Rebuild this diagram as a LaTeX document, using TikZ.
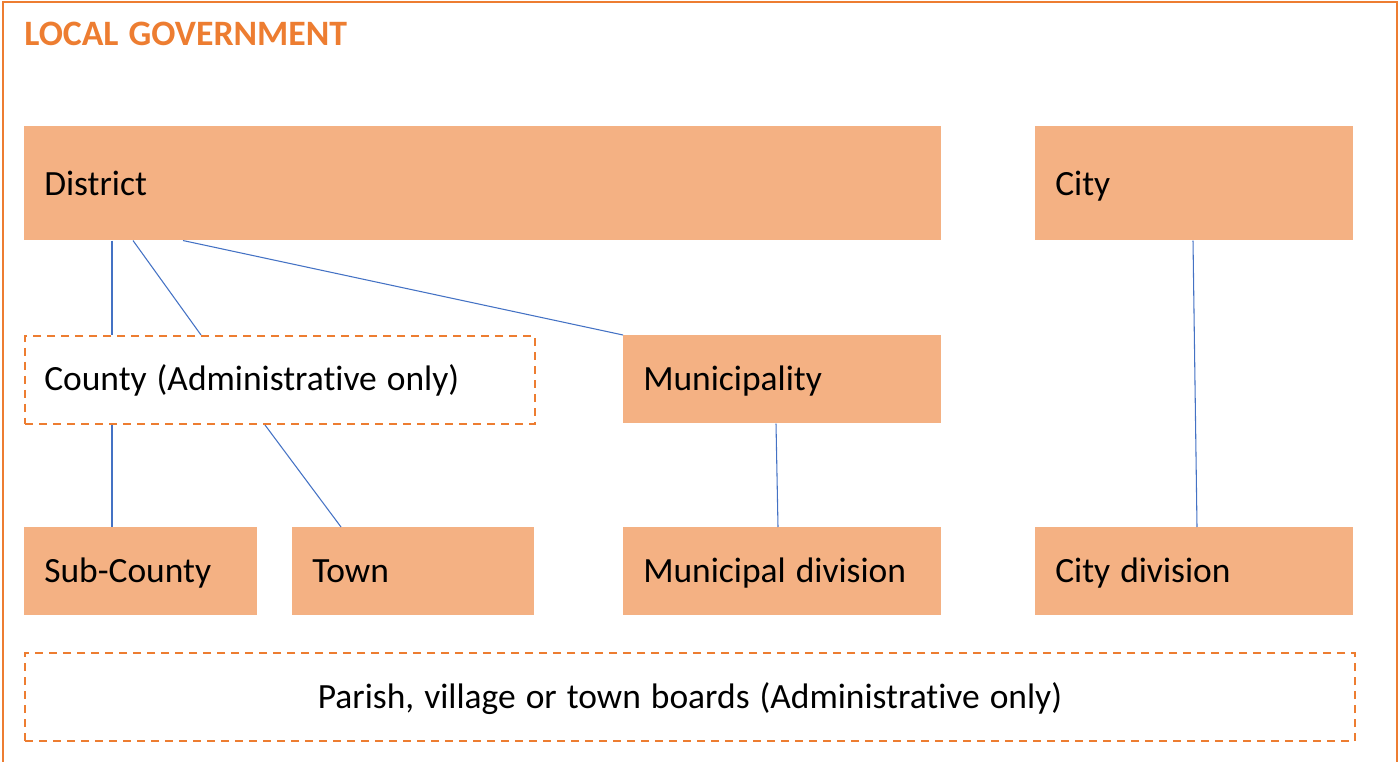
\documentclass[tikz,border=0pt]{standalone}
\usepackage{fontspec}
\setmainfont{Carlito}[Ligatures={NoCommon},WordSpace=1.25]
\definecolor{orng}{HTML}{ED7D31}
\definecolor{boxfill}{HTML}{F4B183}
\definecolor{linkblue}{HTML}{4472C4}
\begin{document}
\begin{tikzpicture}[x=0.75pt,y=-0.75pt,
  every node/.style={font=\fontsize{26.6pt}{32pt}\selectfont},
  solidbox/.style={fill=boxfill,draw=none,anchor=north west,inner sep=0pt},
  dashbox/.style={draw=orng,line width=1.5pt,dash pattern=on 6pt off 4.5pt,fill=white,anchor=north west,inner sep=0pt},
  lbl/.style={inner sep=0pt,anchor=base west},
  link/.style={draw=linkblue,line width=0.8pt}]
\useasboundingbox (0,0) rectangle (1399,762);
\begin{scope}
\clip (0,0) rectangle (1399,762);
\draw[orng,line width=2.2pt] (3,780) -- (3,2) -- (1397,2) -- (1397,780);
\end{scope}
\node[anchor=base west,inner sep=0pt,text=orng,font=\fontsize{26.8pt}{32pt}\selectfont\bfseries] (title) at (24,46) {LOCAL GOVERNMENT};
% boxes
\node[solidbox,minimum height=85.5pt,minimum width=687.75pt] (district) at (24,126) {};
\node[solidbox,minimum height=85.5pt,minimum width=238.5pt] (city) at (1035,126) {};
\node[dashbox,minimum height=66pt,minimum width=382.5pt] (county) at (24,335) {};
\node[solidbox,minimum height=66pt,minimum width=238.5pt] (munic) at (623,335) {};
\node[solidbox,minimum height=66pt,minimum width=174.75pt] (subcounty) at (24,527) {};
\node[solidbox,minimum height=66pt,minimum width=181.5pt] (town) at (292,527) {};
\node[solidbox,minimum height=66pt,minimum width=238.5pt] (mdiv) at (623,527) {};
\node[solidbox,minimum height=66pt,minimum width=238.5pt] (cdiv) at (1035,527) {};
\node[dashbox,minimum height=66pt,minimum width=997.5pt] (parish) at (24,652) {};
% labels
\node[lbl] (districtT) at ([xshift=15pt,yshift=-9pt]district.west) {District};
\node[lbl] (cityT) at ([xshift=15pt,yshift=-9pt]city.west) {City};
\node[lbl] (countyT) at ([xshift=15pt,yshift=-8pt]county.west) {County (Administrative only)};
\node[lbl] (municT) at ([xshift=15pt,yshift=-8.5pt]munic.west) {Municipality};
\node[lbl] (subcountyT) at ([xshift=15pt,yshift=-8.5pt]subcounty.west) {Sub-County};
\node[lbl] (townT) at ([xshift=15pt,yshift=-8.5pt]town.west) {Town};
\node[lbl] (mdivT) at ([xshift=15pt,yshift=-8.5pt]mdiv.west) {Municipal division};
\node[lbl] (cdivT) at ([xshift=15pt,yshift=-8.5pt]cdiv.west) {City division};
\node[lbl,anchor=base] (parishT) at ([yshift=-8.5pt]parish.center) {Parish, village or town boards (Administrative only)};
% links
\draw[link] (district.south west -| 112,0) -- (county.north west -| 112,0);
\draw[link] (district.south west -| 133,0) -- (county.north west -| 201,0);
\draw[link] (district.south west -| 183,0) -- (munic.north west);
\draw[link] (county.south west -| 112,0) -- (subcounty.north west -| 112,0);
\draw[link] (county.south west -| 265,0) -- (town.north west -| 341,0);
\draw[link] (munic.south west -| 776,0) -- (mdiv.north west -| 778,0);
\draw[link] (city.south west -| 1193,0) -- (cdiv.north west -| 1197,0);
\end{tikzpicture}
\end{document}
